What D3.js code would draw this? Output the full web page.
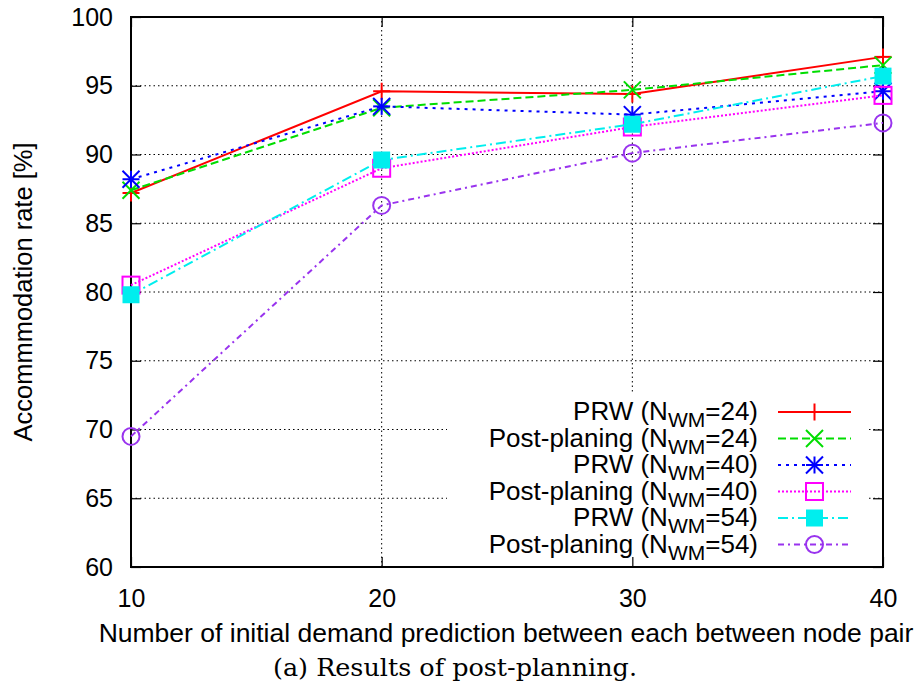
<!DOCTYPE html>
<meta charset="utf-8">
<head>
    <title>Results of post-planning</title>
    <script type="text/javascript" src="https://d3js.org/d3.v7.min.js"></script>
    <style>
        body { margin: 0; background: #fff; }
        text { font-family: "Liberation Sans", Arial, sans-serif; fill: #000; }
        .caption { font-family: "DejaVu Serif", "Liberation Serif", serif; }
    </style>
</head>
<body>
<div id="chart"></div>
<script>

// data
var demandCounts = [10, 20, 30, 40];
var yTicks = [60, 65, 70, 75, 80, 85, 90, 95, 100];
var prw24 = [87.2, 94.6, 94.4, 97.1];
var post24 = [87.4, 93.4, 94.7, 96.5];
var prw40 = [88.2, 93.5, 92.9, 94.6];
var post40 = [80.5, 89.0, 92.0, 94.3];
var prw54 = [79.8, 89.6, 92.2, 95.7];
var post54 = [69.5, 86.3, 90.1, 92.3];
var seriesNames = ["PRW", "Post-planing", "PRW", "Post-planing", "PRW", "Post-planing"];
var seriesNwm = ["24", "24", "40", "40", "54", "54"];

var series = [
    {name: seriesNames[0], nwm: seriesNwm[0], values: prw24,  color: "#ff0000", dash: null,        marker: "plus"},
    {name: seriesNames[1], nwm: seriesNwm[1], values: post24, color: "#00dd00", dash: "8,4",       marker: "cross"},
    {name: seriesNames[2], nwm: seriesNwm[2], values: prw40,  color: "#0000ff", dash: "3,5",       marker: "star"},
    {name: seriesNames[3], nwm: seriesNwm[3], values: post40, color: "#ff00ff", dash: "2,2",       marker: "square"},
    {name: seriesNames[4], nwm: seriesNwm[4], values: prw54,  color: "#00eeee", dash: "10,4,2,4",  marker: "filledSquare"},
    {name: seriesNames[5], nwm: seriesNwm[5], values: post54, color: "#9933ee", dash: "6,4,2,4",   marker: "circle"}
];

var width = 917, height = 683;
var margin = {top: 17, right: 34, bottom: 116, left: 131};

var svg = d3.select("#chart").append("svg")
    .attr("width", width)
    .attr("height", height);

var x = d3.scaleLinear().domain([10, 40]).range([margin.left, width - margin.right]);
var y = d3.scaleLinear().domain([60, 100]).range([height - margin.bottom, margin.top]);

// grid (dotted)
var grid = svg.append("g");
grid.selectAll("line.hg")
    .data(yTicks.filter(function(d){ return d > 60 && d < 100; }))
    .enter().append("line")
    .attr("x1", x(10)).attr("x2", x(40))
    .attr("y1", function(d){ return y(d); }).attr("y2", function(d){ return y(d); })
    .attr("stroke", "#000").attr("stroke-width", 1).attr("stroke-dasharray", "1.5,3");
grid.selectAll("line.vg")
    .data(demandCounts.filter(function(d){ return d > 10 && d < 40; }))
    .enter().append("line")
    .attr("x1", function(d){ return x(d); }).attr("x2", function(d){ return x(d); })
    .attr("y1", y(60)).attr("y2", y(100))
    .attr("stroke", "#000").attr("stroke-width", 1).attr("stroke-dasharray", "1.5,3");

// key background hides the grid
svg.append("rect")
    .attr("x", 447).attr("y", 394)
    .attr("width", 866 - 447).attr("height", y(60) - 394)
    .attr("fill", "#fff");

// axes with inward ticks, mirrored
var yAxisL = d3.axisLeft(y).tickValues(yTicks).tickSize(-10).tickPadding(18);
var yAxisR = d3.axisRight(y).tickValues(yTicks).tickSize(-10).tickFormat("");
var xAxisB = d3.axisBottom(x).tickValues(demandCounts).tickSize(-10).tickPadding(22);
var xAxisT = d3.axisTop(x).tickValues(demandCounts).tickSize(-10).tickFormat("");

function styleAxis(g) {
    g.select(".domain").remove();
    g.selectAll(".tick line").attr("stroke", "#000").attr("stroke-width", 1.2);
    g.selectAll(".tick text").style("font-size", "25px").style("font-family", "Liberation Sans, Arial, sans-serif");
}

svg.append("g").attr("transform", "translate(" + x(10) + ",0)").call(yAxisL).call(styleAxis);
svg.append("g").attr("transform", "translate(" + x(40) + ",0)").call(yAxisR).call(styleAxis);
svg.append("g").attr("transform", "translate(0," + y(60) + ")").call(xAxisB).call(styleAxis);
svg.append("g").attr("transform", "translate(0," + y(100) + ")").call(xAxisT).call(styleAxis);

// frame
svg.append("rect")
    .attr("x", x(10)).attr("y", y(100))
    .attr("width", x(40) - x(10)).attr("height", y(60) - y(100))
    .attr("fill", "none").attr("stroke", "#000").attr("stroke-width", 2);

// markers
var ms = 8.5;
function drawMarker(g, type, cx, cy, color) {
    if (type === "plus" || type === "star") {
        g.append("line").attr("x1", cx - ms).attr("x2", cx + ms).attr("y1", cy).attr("y2", cy)
            .attr("stroke", color).attr("stroke-width", 2);
        g.append("line").attr("x1", cx).attr("x2", cx).attr("y1", cy - ms).attr("y2", cy + ms)
            .attr("stroke", color).attr("stroke-width", 2);
    }
    if (type === "cross" || type === "star") {
        g.append("line").attr("x1", cx - ms).attr("x2", cx + ms).attr("y1", cy - ms).attr("y2", cy + ms)
            .attr("stroke", color).attr("stroke-width", 2);
        g.append("line").attr("x1", cx - ms).attr("x2", cx + ms).attr("y1", cy + ms).attr("y2", cy - ms)
            .attr("stroke", color).attr("stroke-width", 2);
    }
    if (type === "square") {
        g.append("rect").attr("x", cx - ms).attr("y", cy - ms).attr("width", 2 * ms).attr("height", 2 * ms)
            .attr("fill", "none").attr("stroke", color).attr("stroke-width", 2);
    }
    if (type === "filledSquare") {
        g.append("rect").attr("x", cx - ms).attr("y", cy - ms).attr("width", 2 * ms).attr("height", 2 * ms)
            .attr("fill", color);
    }
    if (type === "circle") {
        g.append("circle").attr("cx", cx).attr("cy", cy).attr("r", ms)
            .attr("fill", "none").attr("stroke", color).attr("stroke-width", 2);
    }
}

var line = d3.line()
    .x(function(d, i){ return x(demandCounts[i]); })
    .y(function(d){ return y(d); });

series.forEach(function(s) {
    var g = svg.append("g");
    g.append("path")
        .datum(s.values)
        .attr("d", line)
        .attr("fill", "none")
        .attr("stroke", s.color)
        .attr("stroke-width", 2)
        .attr("stroke-dasharray", s.dash);
    s.values.forEach(function(v, i) {
        drawMarker(g, s.marker, x(demandCounts[i]), y(v), s.color);
    });
});

// key
var keyTextX = 758, keyLineX1 = 778, keyLineX2 = 851, keyY0 = 412, keyStep = 26.5;
series.forEach(function(s, i) {
    var ky = keyY0 + i * keyStep;
    var t = svg.append("text")
        .attr("x", keyTextX).attr("y", ky + 8)
        .attr("text-anchor", "end")
        .style("font-size", "26px");
    t.append("tspan").text(s.name + " (N");
    t.append("tspan").attr("dy", 7).style("font-size", "21px").text("WM");
    t.append("tspan").attr("dy", -7).text("=" + s.nwm + ")");
    svg.append("line")
        .attr("x1", keyLineX1).attr("x2", keyLineX2).attr("y1", ky).attr("y2", ky)
        .attr("stroke", s.color).attr("stroke-width", 2)
        .attr("stroke-dasharray", s.dash);
    drawMarker(svg.append("g"), s.marker, (keyLineX1 + keyLineX2) / 2, ky, s.color);
});

// axis titles
svg.append("text")
    .attr("transform", "translate(32," + ((y(60) + y(100)) / 2) + ") rotate(-90)")
    .attr("text-anchor", "middle")
    .style("font-size", "25.5px")
    .text("Accommmodation rate [%]");

svg.append("text")
    .attr("x", 506).attr("y", 642)
    .attr("text-anchor", "middle")
    .style("font-size", "26.5px")
    .text("Number of initial demand prediction between each between node pair");

svg.append("text")
    .attr("class", "caption")
    .attr("x", 455).attr("y", 676)
    .attr("text-anchor", "middle")
    .attr("textLength", 364)
    .attr("lengthAdjust", "spacingAndGlyphs")
    .style("font-size", "24px")
    .text("(a) Results of post-planning.");

</script>
</body>
</html>
